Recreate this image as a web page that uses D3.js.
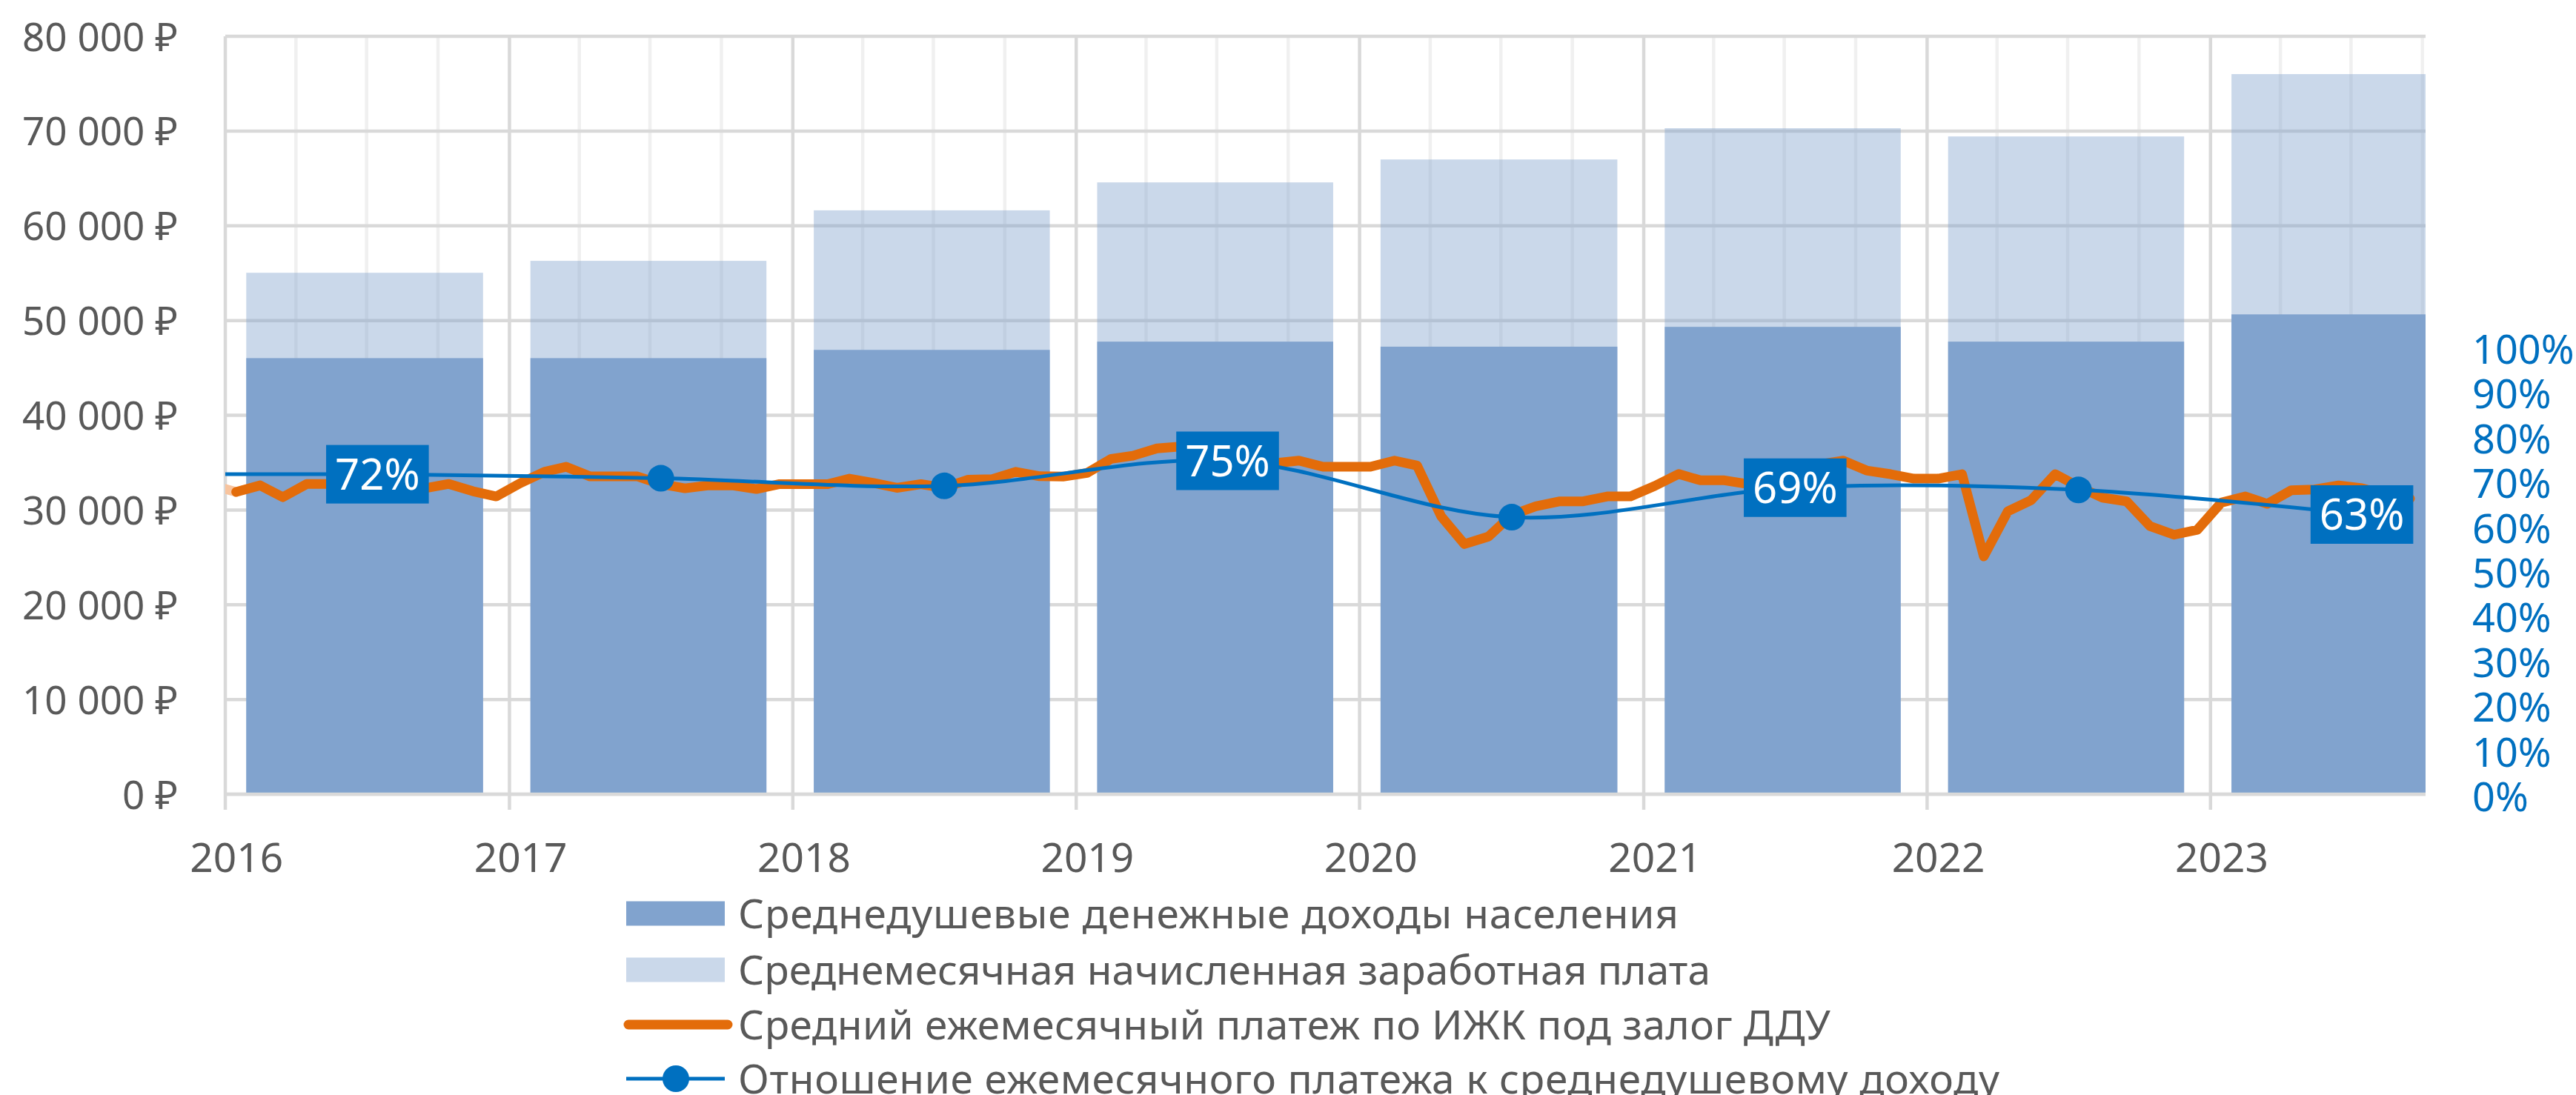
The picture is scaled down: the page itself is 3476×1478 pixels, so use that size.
<!DOCTYPE html>
<html>
<head>
<meta charset="utf-8">
<script src="https://cdn.jsdelivr.net/npm/d3@7"></script>
<style>
  body { margin: 0; background: #fff; }
  svg { display: block; font-family: 'Noto Sans', 'Open Sans', sans-serif; }
</style>
</head>
<body>
<svg id="chart"></svg>
<script>
// --- data ---
const years = [2016, 2017, 2018, 2019, 2020, 2021, 2022, 2023];
const incomeValues = [46030, 46030, 46900, 47770, 47240, 49330, 47770, 50650];
const salaryValues = [55040, 56300, 61630, 64580, 67000, 70300, 69430, 76010];

// monthly payment, Dec 2015 .. Sep 2023
const paymentValues = [
    32600,
    31900, 32600, 31350, 32750, 32750, 32800, 32900, 32700, 32300, 32750, 31980, 31430,
    32840, 34030, 34560, 33540, 33540, 33540, 32730, 32290, 32600, 32600, 32210, 32730,
    32730, 32730, 33310, 32860, 32340, 32730, 32340, 33200, 33250, 34030, 33560, 33520,
    33910, 35400, 35730, 36500, 36700, 36400, 35800, 35100, 34950, 35210, 34560, 34560,
    34560, 35210, 34690, 29340, 26400, 27200, 29480, 30390, 30910, 30910, 31430, 31430,
    32530, 33800, 33130, 33130, 32740, 33100, 33900, 34800, 35210, 34170, 33780, 33310,
    33310, 33780, 25100, 29870, 31040, 33780, 32470, 31300, 30910, 28300, 27390, 27910,
    30780, 31430, 30650, 32080, 32160, 32600, 32300, 31600, 31200
];

const ratioDates = ['2016-01-01', '2016-07-15', '2017-07-15', '2018-07-15', '2019-07-15',
                    '2020-07-15', '2021-07-15', '2022-07-15', '2023-07-15'];
const ratioValues = [0.72, 0.72, 0.711, 0.694, 0.75, 0.624, 0.69, 0.685, 0.63];
const ratioLabelYears = [2016, 2019, 2021, 2023];

const leftTicks = [0, 10000, 20000, 30000, 40000, 50000, 60000, 70000, 80000];
const rightTicks = [0, 0.1, 0.2, 0.3, 0.4, 0.5, 0.6, 0.7, 0.8, 0.9, 1];

const seriesNames = [
    'Среднедушевые денежные доходы населения',
    'Среднемесячная начисленная заработная плата',
    'Средний ежемесячный платеж по ИЖК под залог ДДУ',
    'Отношение ежемесячного платежа к среднедушевому доходу'
];

// --- layout ---
const width = 3476,
      height = 1478,
      margin = { top: 49, right: 203, bottom: 406, left: 304 };
const plotW = width - margin.left - margin.right,
      plotH = height - margin.top - margin.bottom;

const barColor = '#81A3CE',
      orange = '#E36C0A',
      blue = '#0070C0',
      grid = '#D9D9D9',
      textGray = '#595959';

const parse = d3.timeParse('%Y-%m-%d');

const x = d3.scaleTime()
    .domain([new Date(2016, 0, 1), new Date(2023, 9, 5)])
    .range([0, plotW]);

const y = d3.scaleLinear().domain([0, 80000]).range([plotH, 0]);
const y2 = d3.scaleLinear().domain([0, 1]).range([plotH + 3, plotH + 3 - 604]);

const ru = d3.formatLocale({ decimal: ',', thousands: '\u00a0', grouping: [3], currency: ['', '\u00a0₽'] });
const rub = ru.format('$,');
const pct = d3.format('.0%');

const svg = d3.select('#chart').attr('width', width).attr('height', height);
svg.append('rect').attr('width', width).attr('height', height).attr('fill', '#fff');

svg.append('defs').append('clipPath').attr('id', 'plotClip')
    .append('rect').attr('x', 0).attr('y', -40).attr('width', plotW).attr('height', plotH + 80);

const g = svg.append('g').attr('transform', `translate(${margin.left},${margin.top})`);

// minor vertical gridlines (quarters)
const quarters = d3.timeMonth.every(3).range(new Date(2016, 0, 1), new Date(2023, 9, 5))
    .filter(d => d.getMonth() !== 0);
g.append('g').selectAll('line').data(quarters).enter().append('line')
    .attr('x1', d => x(d)).attr('x2', d => x(d))
    .attr('y1', 0).attr('y2', plotH)
    .attr('stroke', '#F0F0F0').attr('stroke-width', 4.5);

// horizontal gridlines
g.append('g').selectAll('line').data(leftTicks).enter().append('line')
    .attr('x1', 0).attr('x2', plotW)
    .attr('y1', d => y(d)).attr('y2', d => y(d))
    .attr('stroke', grid).attr('stroke-width', 4.5);

// major vertical gridlines (years), with tick below axis
g.append('g').selectAll('line').data(years).enter().append('line')
    .attr('x1', d => x(new Date(d, 0, 1))).attr('x2', d => x(new Date(d, 0, 1)))
    .attr('y1', 0).attr('y2', plotH + 21)
    .attr('stroke', grid).attr('stroke-width', 4.5);

// bars
const bars = g.append('g').attr('clip-path', 'url(#plotClip)');
const barX0 = yr => x(new Date(yr, 0, 28));
const barX1 = yr => Math.min(x(new Date(yr, 10, 28)), plotW);

bars.selectAll('rect.salary').data(years).enter().append('rect')
    .attr('class', 'salary')
    .attr('x', d => barX0(d))
    .attr('width', d => barX1(d) - barX0(d))
    .attr('y', (d, i) => y(salaryValues[i]))
    .attr('height', (d, i) => plotH - y(salaryValues[i]))
    .attr('fill', barColor).attr('fill-opacity', 0.42);

bars.selectAll('rect.income').data(years).enter().append('rect')
    .attr('class', 'income')
    .attr('x', d => barX0(d))
    .attr('width', d => barX1(d) - barX0(d))
    .attr('y', (d, i) => y(incomeValues[i]))
    .attr('height', (d, i) => plotH - y(incomeValues[i]))
    .attr('fill', barColor);

// x axis line
g.append('line')
    .attr('x1', 0).attr('x2', plotW)
    .attr('y1', plotH).attr('y2', plotH)
    .attr('stroke', grid).attr('stroke-width', 4.5);

// orange monthly payment line
const months = d3.timeMonth.range(new Date(2015, 11, 1), new Date(2023, 9, 1))
    .map(d => new Date(d.getFullYear(), d.getMonth(), 15));
const payment = months.map((d, i) => ({ date: d, value: paymentValues[i] }));

const payLine = d3.line().x(d => x(d.date)).y(d => y(d.value));
const lines = g.append('g').attr('clip-path', 'url(#plotClip)');

lines.append('path')
    .datum(payment.slice(0, 2))
    .attr('d', payLine)
    .attr('fill', 'none').attr('stroke', '#F8C49E')
    .attr('stroke-width', 13).attr('stroke-linecap', 'round');

lines.append('path')
    .datum(payment.slice(1))
    .attr('d', payLine)
    .attr('fill', 'none').attr('stroke', orange)
    .attr('stroke-width', 13)
    .attr('stroke-linecap', 'round').attr('stroke-linejoin', 'round');

// blue ratio line
const ratio = ratioDates.map((d, i) => ({ date: parse(d), value: ratioValues[i] }));
lines.append('path')
    .datum(ratio)
    .attr('d', d3.line().curve(d3.curveCatmullRom.alpha(0.5)).x(d => x(d.date)).y(d => y2(d.value)))
    .attr('fill', 'none').attr('stroke', blue).attr('stroke-width', 5);

const annual = ratio.slice(1);
g.append('g').selectAll('circle').data(annual).enter().append('circle')
    .attr('cx', d => x(d.date)).attr('cy', d => y2(d.value))
    .attr('r', 18).attr('fill', blue);

// data labels
const labels = g.append('g').selectAll('g')
    .data(annual.filter(d => ratioLabelYears.includes(d.date.getFullYear())))
    .enter().append('g')
    .attr('transform', d => `translate(${x(d.date)},${y2(d.value)})`);

labels.append('rect').attr('fill', blue);
labels.append('text')
    .attr('text-anchor', 'middle')
    .attr('dy', '0.36em')
    .attr('fill', '#fff')
    .style('font-size', '58px')
    .text(d => pct(d.value));
labels.each(function () {
    const t = d3.select(this).select('text').node().getComputedTextLength();
    d3.select(this).select('rect')
        .attr('x', -(t + 24) / 2).attr('width', t + 24)
        .attr('y', -39.5).attr('height', 79);
});

// left axis
g.append('g')
    .call(d3.axisLeft(y).tickValues(leftTicks).tickFormat(rub).tickSize(0).tickPadding(64))
    .call(a => a.select('.domain').remove())
    .selectAll('text')
    .attr('dy', '0.36em')
    .attr('fill', textGray)
    .style('font-size', '53px')
    .style('font-family', "'Noto Sans', 'Open Sans', sans-serif");

// right axis
g.append('g')
    .attr('transform', `translate(${plotW},0)`)
    .call(d3.axisRight(y2).tickValues(rightTicks).tickFormat(pct).tickSize(0).tickPadding(63))
    .call(a => a.select('.domain').remove())
    .selectAll('text')
    .attr('dy', '0.36em')
    .attr('fill', blue)
    .style('font-size', '54px')
    .style('font-family', "'Noto Sans', 'Open Sans', sans-serif");

// bottom axis labels
g.append('g')
    .attr('transform', `translate(0,${plotH})`)
    .call(d3.axisBottom(x).tickValues(years.map(d => new Date(d, 0, 15)))
        .tickFormat(d3.timeFormat('%Y')).tickSize(0))
    .call(a => a.select('.domain').remove())
    .selectAll('text')
    .attr('y', 85)
    .attr('dy', '0.36em')
    .attr('fill', textGray)
    .style('font-size', '55px')
    .style('font-family', "'Noto Sans', 'Open Sans', sans-serif");

// legend
const legendRows = [1233, 1309, 1383, 1456];
const legendEnds = [2265, 2308, 2470, 2698];
const legend = svg.append('g');
seriesNames.forEach((name, i) => {
    const row = legend.append('g').attr('transform', `translate(0,${legendRows[i]})`);
    if (i === 0 || i === 1) {
        row.append('rect')
            .attr('x', 845).attr('y', -16.5).attr('width', 133).attr('height', 33)
            .attr('fill', barColor).attr('fill-opacity', i === 0 ? 1 : 0.42);
    } else if (i === 2) {
        row.append('line')
            .attr('x1', 848).attr('x2', 982)
            .attr('stroke', orange).attr('stroke-width', 13).attr('stroke-linecap', 'round');
    } else {
        row.append('line')
            .attr('x1', 845).attr('x2', 978)
            .attr('stroke', blue).attr('stroke-width', 5);
        row.append('circle').attr('cx', 912).attr('r', 18).attr('fill', blue);
    }
    row.append('text')
        .attr('x', 996).attr('dy', '0.36em')
        .attr('fill', textGray)
        .style('font-size', '55px')
        .attr('textLength', legendEnds[i] - 996)
        .attr('lengthAdjust', 'spacing')
        .text(name);
});
</script>
</body>
</html>
